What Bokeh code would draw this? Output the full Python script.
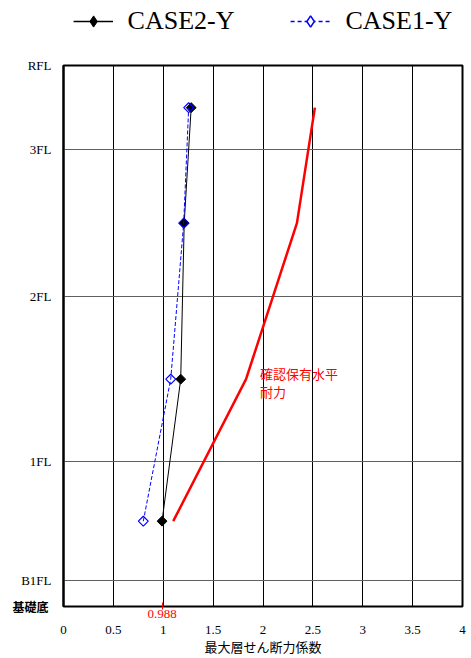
import numpy as np
from bokeh.plotting import figure
from bokeh.layouts import column
from bokeh.models import Range1d, FixedTicker, Legend, LegendItem, Label, LinearAxis
from bokeh.embed import file_html
from bokeh.resources import INLINE

# Levels (height units)
level_names = ["基礎底", "B1FL", "1FL", "2FL", "3FL", "RFL"]
level_heights = [0.0, 2.6, 14.4, 30.9, 45.5, 53.9]

# Story mid-heights where the coefficients are plotted
story_heights = [8.5, 22.65, 38.2, 49.7]

case2_x = [0.988, 1.175, 1.21, 1.28]
case1_x = [0.80, 1.075, 1.205, 1.255]
capacity_x = [1.10, 1.83, 2.34, 2.52]

series_names = ["CASE2-Y", "CASE1-Y"]
capacity_label = ["確認保有水平", "耐力"]

x_ticks = [0, 0.5, 1, 1.5, 2, 2.5, 3, 3.5, 4]
x_tick_labels = ["0", "0.5", "1", "1.5", "2", "2.5", "3", "3.5", "4"]

SERIF = "Liberation Serif"
SANS = "Noto Sans CJK JP"

W = 471

# ---------------- legend strip ----------------
# series are drawn here too, but the strip's ranges keep them outside its (invisible) frame;
# they only serve as legend entries
top = figure(width=W, height=50, x_range=Range1d(0, 0.1), y_range=Range1d(0, 1),
             output_backend="svg", toolbar_location=None,
             x_axis_location=None, y_axis_location=None,
             min_border_left=63, min_border_right=9, min_border_top=6, min_border_bottom=0)
top.outline_line_color = None
top.grid.visible = False
tl2 = top.line(case2_x, story_heights, line_color="black", line_width=1.5)
ts2 = top.scatter(case2_x, story_heights, marker="diamond", size=12,
                  fill_color="black", line_color="black")
tl1 = top.line(case1_x, story_heights, line_color="blue", line_width=1.5, line_dash="4 3")
ts1 = top.scatter(case1_x, story_heights, marker="diamond", size=12,
                  fill_color="white", line_color="blue", line_width=1.5)
legend = Legend(items=[LegendItem(label=series_names[0], renderers=[tl2, ts2]),
                       LegendItem(label=series_names[1], renderers=[tl1, ts1])],
                orientation="horizontal", location="top_center",
                label_text_font=SERIF, label_text_font_size="26px", label_text_color="black",
                glyph_width=40, glyph_height=28, spacing=56, label_standoff=15,
                border_line_color=None, background_fill_alpha=0, padding=0, margin=0)
top.add_layout(legend)

# ---------------- main chart ----------------
p = figure(width=W, height=608, x_range=Range1d(0, 4), y_range=Range1d(0, 53.9),
           output_backend="svg", toolbar_location=None,
           min_border_left=63, min_border_right=9, min_border_top=15, min_border_bottom=40)

p.background_fill_color = "white"
p.outline_line_color = "black"
p.outline_line_width = 2

# grids
p.xgrid.ticker = FixedTicker(ticks=x_ticks)
p.xgrid.grid_line_color = "black"
p.xgrid.grid_line_width = 1
p.ygrid.ticker = FixedTicker(ticks=level_heights[1:-1])
p.ygrid.grid_line_color = "#606060"
p.ygrid.grid_line_width = 1

# x axis
xa = p.xaxis[0]
xa.ticker = FixedTicker(ticks=x_ticks)
xa.major_label_overrides = {t: l for t, l in zip(x_ticks, x_tick_labels)}
xa.major_tick_line_color = None
xa.minor_tick_line_color = None
xa.axis_line_color = None
xa.major_label_text_font = SERIF
xa.major_label_text_font_size = "13px"
xa.major_label_text_color = "black"
xa.major_tick_out = 0
xa.major_label_standoff = 5
xa.axis_label = "最大層せん断力係数"
xa.axis_label_text_font = SANS
xa.axis_label_text_font_size = "13px"
xa.axis_label_text_font_style = "normal"
xa.axis_label_text_color = "black"
xa.axis_label_standoff = 0

# red 0.988 marker axis (closest to the frame)
ax988 = LinearAxis(ticker=FixedTicker(ticks=[case2_x[0]]),
                   major_label_overrides={case2_x[0]: f"{case2_x[0]:.3f}"},
                   axis_line_color=None, minor_tick_line_color=None,
                   major_tick_line_color="red", major_tick_in=4, major_tick_out=3,
                   major_label_standoff=0, major_label_text_color="red",
                   major_label_text_font=SERIF, major_label_text_font_size="13px")
p.below = [ax988, xa]

# y axis (levels)
ya = p.yaxis[0]
ya.ticker = FixedTicker(ticks=level_heights[1:])
ya.major_label_overrides = {h: n for h, n in zip(level_heights[1:], level_names[1:])}
ya.major_tick_line_color = None
ya.minor_tick_line_color = None
ya.axis_line_color = "black"
ya.axis_line_width = 2
ya.major_label_text_font = SERIF
ya.major_label_text_font_size = "13px"
ya.major_label_text_color = "black"
ya.major_tick_out = 0
ya.major_label_standoff = 12

# foundation level label (bold sans), outer axis pulled back toward the frame
ybase = LinearAxis(ticker=FixedTicker(ticks=[level_heights[0]]),
                   major_label_overrides={level_heights[0]: level_names[0]},
                   axis_line_color=None, major_tick_line_color=None, minor_tick_line_color=None,
                   major_tick_out=0, major_label_standoff=-30,
                   major_label_text_font=SANS, major_label_text_font_size="12px",
                   major_label_text_font_style="bold", major_label_text_color="black")
p.left = [ya, ybase]

# capacity line
p.line(capacity_x, story_heights, line_color="red", line_width=2.5)

# CASE2
p.line(case2_x, story_heights, line_color="black", line_width=1)
p.scatter(case2_x, story_heights, marker="square", angle=np.pi / 4, size=7,
          fill_color="black", line_color="black")
# CASE1
p.line(case1_x, story_heights, line_color="blue", line_width=1, line_dash="4 2")
p.scatter(case1_x, story_heights, marker="square", angle=np.pi / 4, size=7,
          fill_color=None, line_color="blue", line_width=1.2)

# annotation
p.add_layout(Label(x=1.97, y=24.2, text=capacity_label[0], text_align="left", text_baseline="top",
                   text_font=SANS, text_font_size="13px", text_color="red"))
p.add_layout(Label(x=1.97, y=22.4, text=capacity_label[1], text_align="left", text_baseline="top",
                   text_font=SANS, text_font_size="13px", text_color="red"))

layout = column(top, p, spacing=0)
open("out.html", "w").write(file_html(layout, INLINE))
